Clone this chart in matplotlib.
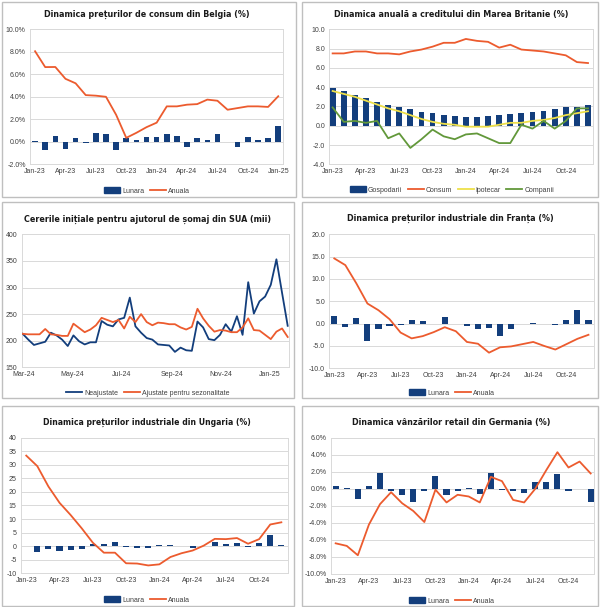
import matplotlib
matplotlib.use('Agg')
import matplotlib.pyplot as plt
import matplotlib.dates as mdates
from matplotlib import font_manager
from matplotlib.patches import Rectangle
from matplotlib.lines import Line2D
import numpy as np
import pandas as pd

# ---------------- data ----------------
etichete_23_24 = ['Jan-23', 'Apr-23', 'Jul-23', 'Oct-23', 'Jan-24', 'Apr-24', 'Jul-24', 'Oct-24']
etichete_be = etichete_23_24 + ['Jan-25']

# Belgia, Jan-23 .. Jan-25 (25 luni)
be_lunara = [0.05, -0.7, 0.55, -0.65, 0.3, -0.12, 0.75, 0.7, -0.7, 0.35, 0.15, 0.4,
             0.45, 0.65, 0.5, -0.45, 0.3, 0.2, 0.65, 0.0, -0.45, 0.45, 0.15, 0.35, 1.4]
be_anuala = [8.05, 6.64, 6.65, 5.6, 5.2, 4.15, 4.1, 4.0, 2.4, 0.35, 0.8, 1.3,
             1.7, 3.15, 3.15, 3.3, 3.35, 3.75, 3.65, 2.85, 3.0, 3.15, 3.15, 3.1, 4.05]

# Marea Britanie, Jan-23 .. Dec-24
uk_gospodarii = [3.9, 3.65, 3.2, 2.9, 2.5, 2.15, 1.9, 1.7, 1.4, 1.3, 1.1, 1.0,
                 0.9, 0.9, 1.0, 1.1, 1.2, 1.3, 1.4, 1.5, 1.7, 1.9, 1.9, 2.1]
uk_consum = [7.5, 7.5, 7.7, 7.7, 7.5, 7.5, 7.4, 7.7, 7.9, 8.2, 8.6, 8.6,
             9.0, 8.8, 8.7, 8.1, 8.4, 7.9, 7.8, 7.7, 7.5, 7.3, 6.6, 6.5]
uk_ipotecar = [3.6, 3.3, 3.0, 2.6, 2.2, 1.8, 1.5, 1.1, 0.7, 0.4, 0.2, 0.1,
               -0.1, -0.1, -0.1, 0.1, 0.3, 0.3, 0.5, 0.6, 0.8, 1.1, 1.3, 1.5]
uk_companii = [1.9, 0.4, 0.5, 0.3, 0.5, -1.3, -0.8, -2.3, -1.4, -0.4, -1.1, -1.4,
               -0.9, -0.8, -1.3, -1.8, -1.8, 0.1, -0.3, 0.5, -0.3, 0.5, 1.8, 1.8]

# SUA, cereri saptamanale (mii)
us_start = '2024-02-29'
us_neajustate = [213, 202, 192, 195, 198, 215, 210, 202, 190, 210, 199, 193, 197, 197, 237, 230,
                 227, 240, 243, 281, 227, 215, 205, 202, 193, 192, 191, 179, 187, 182, 181, 236,
                 225, 203, 201, 211, 231, 217, 246, 211, 310, 251, 274, 283, 305, 353, 290, 228]
us_ajustate = [213, 212, 212, 212, 222, 212, 211, 209, 209, 232, 224, 216, 221, 229, 243, 239,
               235, 239, 223, 245, 235, 250, 235, 229, 234, 233, 231, 231, 225, 221, 226, 260,
               242, 228, 217, 220, 219, 216, 216, 225, 242, 220, 219, 211, 203, 217, 223, 207]

# Franta, Jan-23 .. Dec-24
fr_lunara = [1.7, -0.7, 1.2, -3.9, -1.3, -0.6, -0.2, 0.8, 0.6, -0.1, 1.5, -0.1,
             -0.6, -1.1, -1.0, -2.7, -1.2, -0.1, 0.1, 0.0, -0.2, 0.8, 3.0, 0.8]
fr_anuala = [14.6, 13.1, 9.0, 4.5, 3.0, 1.0, -2.0, -3.3, -2.8, -1.9, -0.8, -1.7,
             -4.1, -4.5, -6.5, -5.3, -5.1, -4.6, -4.1, -5.0, -5.8, -4.6, -3.4, -2.5]

# Ungaria, Jan-23 .. Dec-24
hu_lunara = [0.1, -2.0, -0.9, -1.7, -1.3, -1.2, 0.9, 0.7, 1.5, -0.4, -0.5, -0.5,
             0.3, 0.4, -0.1, -0.8, 0.0, 1.5, 0.7, 1.2, -0.3, 1.1, 4.3, 0.3]
hu_anuala = [33.4, 29.5, 22.0, 16.0, 11.5, 6.6, 1.3, -2.4, -2.4, -6.3, -6.4, -7.1,
             -6.7, -4.0, -2.6, -1.6, 0.2, 2.7, 2.6, 3.0, 0.9, 2.6, 8.0, 8.8]

# Germania, Jan-23 .. Dec-24
de_lunara = [0.3, 0.05, -1.2, 0.3, 1.9, -0.2, -0.7, -1.5, -0.2, 1.5, -0.7, -0.2,
             0.1, -0.6, 1.9, -0.1, -0.3, -0.5, 0.8, 0.8, 1.7, -0.2, 0.0, -1.5]
de_anuala = [-6.4, -6.7, -7.8, -4.2, -1.8, -0.4, -1.7, -2.6, -3.9, -0.1, -1.6, -0.7,
             -0.9, -1.6, 1.4, 0.9, -1.3, -1.6, 0.0, 2.2, 4.3, 2.5, 3.2, 1.8]

# ---------------- style ----------------
W, H = 600, 607
BLUE = '#133E7C'
ORANGE = '#EC5B2E'
YELLOW = '#EEE04A'
GREEN = '#62983A'
GRID = '#D9D9D9'
TXT = '#404040'

plt.rcParams['font.family'] = ['Liberation Sans', 'DejaVu Sans']
plt.rcParams['axes.unicode_minus'] = False

# a condensed bold face for the titles, if one is installed
cond = [f for f in font_manager.fontManager.ttflist
        if f.stretch in ('condensed', 'semi-condensed', 'extra-condensed', 'ultra-condensed')
        or 'Narrow' in f.name or 'Condensed' in f.name]
cond_bold = [f for f in cond if (f.weight in ('bold', 'semibold', 'demibold') or
                                 (isinstance(f.weight, int) and f.weight >= 600))]
if cond_bold:
    TITLE_PROPS = dict(fontproperties=font_manager.FontProperties(fname=cond_bold[0].fname))
else:
    TITLE_PROPS = dict(family=['Liberation Sans', 'DejaVu Sans'], weight='bold')

fig = plt.figure(figsize=(W / 100, H / 100), dpi=100)
fig.patch.set_facecolor('white')


def px_axes(x0, y0, x1, y1):
    return fig.add_axes([x0 / W, 1 - y1 / H, (x1 - x0) / W, (y1 - y0) / H])


def box(x0, y0, x1, y1):
    fig.patches.append(Rectangle((x0 / W, 1 - y1 / H), (x1 - x0) / W, (y1 - y0) / H,
                                 transform=fig.transFigure, fill=False,
                                 edgecolor='#BFBFBF', lw=1.0))


def title(text, cx, cy, width):
    t = fig.text(cx / W, 1 - cy / H, text, ha='center', va='center', color='#1A1A1A', **TITLE_PROPS)
    t.set_fontsize(9)
    r = fig.canvas.get_renderer()
    w = t.get_window_extent(r).width
    t.set_fontsize(9 * width / w)


def style(ax, ylim, step, fmt):
    ax.set_ylim(*ylim)
    ax.set_yticks(np.arange(ylim[0], ylim[1] + step / 2, step))
    ax.yaxis.set_major_formatter(plt.FuncFormatter(lambda v, p: fmt % v))
    ax.grid(axis='y', color=GRID, lw=0.7)
    ax.set_axisbelow(True)
    for s in ax.spines.values():
        s.set_color(GRID)
        s.set_linewidth(0.7)
    ax.tick_params(length=0, labelsize=5, colors=TXT, pad=3)


def legend(handles, labels, cx, cy):
    fig.legend(handles, labels, loc='center', bbox_to_anchor=(cx / W, 1 - cy / H),
               ncol=len(labels), frameon=False, fontsize=5, handlelength=2.3,
               handleheight=0.8, columnspacing=0.8, handletextpad=0.3, labelcolor=TXT)


def bar_line(ax, lunara, anuala, etichete, xlim):
    x = np.arange(len(lunara))
    ax.bar(x, lunara, width=0.55, color=BLUE, zorder=2)
    ax.plot(x, anuala, color=ORANGE, lw=1.3, zorder=3)
    ax.set_xlim(*xlim)
    ax.set_xticks(np.arange(0, len(lunara), 3)[:len(etichete)])
    ax.set_xticklabels(etichete)


bar_h = Rectangle((0, 0), 1, 1, color=BLUE)
line_o = Line2D([], [], color=ORANGE, lw=1.3)

# panel borders
box(2, 2, 296, 197)
box(302, 2, 598, 197)
box(2, 202, 294, 398)
box(302, 202, 598, 398)
box(2, 406, 294, 606)
box(302, 406, 598, 606)

# 1. Belgia
ax = px_axes(30, 29.3, 283.3, 164.3)
bar_line(ax, be_lunara, be_anuala, etichete_be, (-0.5, 24.5))
style(ax, (-2, 10), 2, '%.1f%%')
title('Dinamica prețurilor de consum din Belgia (%)', 147, 14, 207)
legend([bar_h, line_o], ['Lunara', 'Anuala'], 147, 191)

# 2. Marea Britanie
ax = px_axes(329.3, 29.3, 593, 164.3)
x = np.arange(len(uk_gospodarii))
ax.bar(x, uk_gospodarii, width=0.52, color=BLUE, zorder=2)
ax.plot(x, uk_consum, color=ORANGE, lw=1.3, zorder=3)
ax.plot(x, uk_ipotecar, color=YELLOW, lw=1.3, zorder=3)
ax.plot(x, uk_companii, color=GREEN, lw=1.3, zorder=3)
ax.set_xlim(-0.3, 23.45)
ax.set_xticks(np.arange(0, 24, 3))
ax.set_xticklabels(etichete_23_24)
style(ax, (-4, 10), 2, '%.1f')
title('Dinamica anuală a creditului din Marea Britanie (%)', 451, 14, 236)
legend([bar_h, line_o, Line2D([], [], color=YELLOW, lw=1.3), Line2D([], [], color=GREEN, lw=1.3)],
       ['Gospodarii', 'Consum', 'Ipotecar', 'Companii'], 452, 190)

# 3. SUA
ax = px_axes(21.7, 234.3, 289.3, 367.3)
zile = pd.date_range(us_start, periods=len(us_neajustate), freq='7D')
ax.plot(zile, us_neajustate, color=BLUE, lw=1.3, zorder=3)
ax.plot(zile, us_ajustate, color=ORANGE, lw=1.3, zorder=3)
ax.set_xlim(zile[0] - pd.Timedelta(days=1.2), zile[-1] + pd.Timedelta(days=2))
ax.xaxis.set_major_locator(mdates.MonthLocator(bymonth=[1, 3, 5, 7, 9, 11]))
ax.xaxis.set_major_formatter(mdates.DateFormatter('%b-%y'))
style(ax, (150, 400), 50, '%d')
title('Cererile inițiale pentru ajutorul de șomaj din SUA (mii)', 147, 219, 248)
legend([Line2D([], [], color=BLUE, lw=1.3), line_o], ['Neajustate', 'Ajustate pentru sezonalitate'], 148, 393)

# 4. Franta
ax = px_axes(329.3, 234.3, 594, 368.3)
bar_line(ax, fr_lunara, fr_anuala, etichete_23_24, (-0.45, 23.5))
style(ax, (-10, 20), 5, '%.1f')
title('Dinamica prețurilor industriale din Franța (%)', 450, 218, 207)
legend([bar_h, line_o], ['Lunara', 'Anuala'], 452, 393)

# 5. Ungaria
ax = px_axes(20.7, 437.7, 288, 573.3)
bar_line(ax, hu_lunara, hu_anuala, etichete_23_24, (-0.5, 23.6))
style(ax, (-10, 40), 5, '%d')
title('Dinamica prețurilor industriale din Ungaria (%)', 147, 422, 208)
legend([bar_h, line_o], ['Lunara', 'Anuala'], 147, 600)

# 6. Germania
ax = px_axes(331, 437.7, 594, 574)
bar_line(ax, de_lunara, de_anuala, etichete_23_24, (-0.42, 23.3))
style(ax, (-10, 6), 2, '%.1f%%')
title('Dinamica vânzărilor retail din Germania (%)', 451, 422, 199)
legend([bar_h, line_o], ['Lunara', 'Anuala'], 452, 601)

fig.savefig('out.png', dpi=100)
